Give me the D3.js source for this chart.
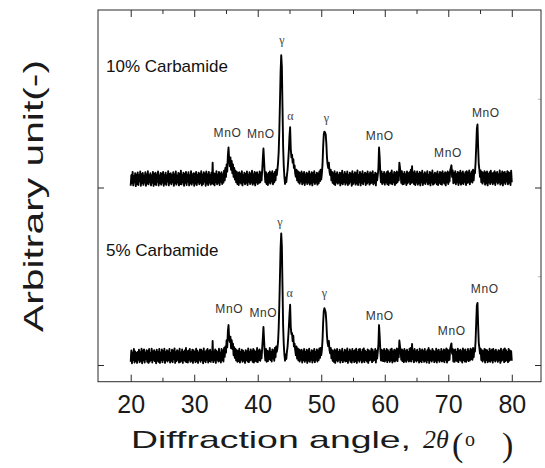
<!DOCTYPE html>
<html><head><meta charset="utf-8">
<script src="https://cdn.jsdelivr.net/npm/d3@7"></script>
<style>html,body{margin:0;padding:0;background:#fff;} svg{display:block}</style>
</head><body>
<script>
// ---------------- data ----------------
const sampleNames = ["10% Carbamide", "5% Carbamide"];
const startAngle = 20;      // first 2θ of the scan
const stepAngle = 0.1;      // scan step (°)
// intensity (a.u.), one value per step, 20.0° .. 80.0°
const intensity10 = [
10,70,25,88,12,65,30,80,8,72,
20,85,14,68,35,90,10,75,25,82,
15,66,28,86,10,74,22,92,18,70,
30,80,12,68,26,88,9,76,20,84,
14,72,32,90,11,66,24,82,16,78,
28,88,10,70,22,84,15,68,34,92,
12,76,26,80,18,70,30,86,10,74,
24,90,16,66,28,82,12,78,20,95,
18,70,30,84,10,76,26,88,14,72,
32,86,12,68,24,92,16,74,28,80,
10,78,22,88,14,70,30,84,18,76,
26,92,12,72,20,86,32,78,10,90,
22,74,14,88,28,70,16,84,24,140,
20,80,12,76,30,92,18,72,26,88,
14,78,32,86,20,74,28,95,40,110,
60,130,90,180,225,160,120,170,100,150,
80,130,60,110,45,95,30,88,20,80,
14,86,28,78,22,92,12,70,30,84,
18,76,26,90,14,72,32,86,20,78,
28,94,16,74,24,88,12,80,30,86,
20,72,26,90,30,84,40,95,160,220,
150,80,30,86,20,74,14,82,28,90,
22,80,34,92,18,76,30,88,40,100,
70,100,140,200,320,480,650,745,680,450,
230,120,60,20,55,30,70,100,150,210,
290,340,220,170,185,140,160,110,125,80,
60,100,40,92,30,86,22,80,34,90,
18,78,26,88,14,72,30,84,20,76,
28,90,16,74,24,86,12,80,30,92,
20,70,28,84,16,78,24,90,36,100,
45,80,130,230,300,315,310,300,250,170,
130,110,140,90,70,100,40,88,26,80,
20,92,14,76,30,86,22,70,28,84,
12,80,24,94,18,72,30,88,16,76,
26,90,14,70,22,84,32,78,10,92,
20,74,28,86,16,80,24,96,14,70,
30,88,12,76,26,92,18,72,34,84,
14,78,22,90,30,74,16,86,24,80,
28,92,18,70,26,84,12,78,40,70,
110,225,170,80,30,90,20,76,28,88,
16,74,30,86,20,92,14,78,26,84,
22,96,18,72,30,88,14,80,24,90,
30,84,40,140,110,80,26,92,18,76,
20,88,28,74,14,90,24,80,32,86,
18,100,26,120,30,84,20,92,14,78,
28,90,16,76,24,88,12,82,30,94,
14,74,26,86,20,78,32,92,18,70,
24,88,12,80,28,96,16,72,22,84,
30,78,18,90,14,74,26,88,20,82,
16,92,28,76,22,86,12,80,30,90,
20,84,34,96,110,125,60,96,24,80,
28,92,18,76,30,88,14,82,26,94,
16,80,24,90,20,74,32,86,14,92,
26,84,30,96,18,78,34,90,28,100,
40,96,80,140,230,330,355,230,130,100,
60,96,30,88,22,80,34,92,16,84,
24,90,12,76,28,86,20,94,30,78,
18,84,26,92,14,80,32,88,22,74,
30,96,16,78,24,90,12,84,28,88,
20,76,34,92,18,86,26,80,14,94,
30];
const intensity5 = [
18,82,10,70,28,90,14,76,22,68,
12,74,30,86,16,72,24,92,10,80,
26,88,14,70,32,84,18,78,12,90,
20,68,28,92,14,76,30,84,22,72,
10,86,24,74,18,90,12,70,28,88,
16,78,30,92,12,72,26,84,20,76,
28,90,14,68,24,86,16,80,32,94,
12,72,22,84,30,76,14,92,18,70,
24,88,12,74,28,82,20,96,16,78,
14,80,30,90,18,72,24,86,12,84,
26,74,16,92,22,80,12,70,30,88,
18,86,28,76,10,94,24,72,16,82,
30,90,14,78,22,86,18,74,28,135,
16,76,26,88,12,80,30,72,20,92,
24,70,14,90,28,82,20,96,46,105,
70,140,100,190,225,150,130,160,95,140,
90,120,55,100,40,90,26,84,18,78,
22,92,14,74,30,86,18,80,24,70,
12,84,28,76,20,94,16,72,26,88,
30,78,18,90,14,82,24,74,20,96,
16,80,28,88,24,76,38,96,150,214,
140,70,26,90,18,80,22,76,34,96,
28,74,20,88,36,82,24,96,44,104,
74,96,130,210,340,500,660,741,670,440,
220,115,58,24,60,34,76,104,155,215,
285,340,215,175,180,135,165,105,120,85,
55,104,36,94,26,88,20,82,30,86,
14,76,28,90,18,74,26,86,12,80,
24,92,18,70,30,84,14,78,26,90,
16,74,30,88,20,80,28,94,40,96,
55,85,140,240,305,320,310,295,245,165,
125,105,135,85,66,96,38,84,24,78,
18,88,12,80,26,90,20,74,30,86,
14,76,28,92,16,70,26,86,20,80,
22,94,12,72,30,88,18,76,14,90,
26,78,16,84,22,92,12,74,28,88,
18,90,30,72,14,86,24,94,16,80,
28,74,20,88,12,82,26,76,30,92,
16,86,24,72,30,90,14,80,36,74,
115,225,165,85,26,86,24,80,22,90,
20,78,26,90,16,84,28,72,18,88,
26,92,14,76,24,86,20,82,30,94,
22,88,44,138,105,76,30,88,22,80,
16,90,24,78,18,86,30,74,20,92,
24,96,20,118,34,80,16,90,26,76,
20,86,28,74,14,92,22,80,16,88,
30,78,18,90,24,72,14,84,28,96,
12,84,26,76,20,90,30,80,16,74,
24,92,14,80,28,86,18,72,26,90,
20,76,24,88,16,82,30,94,14,86,
26,80,30,92,108,122,64,90,20,84,
18,88,26,72,22,92,16,80,30,86,
24,76,14,94,28,82,20,88,18,74,
30,90,22,78,26,92,34,86,30,96,
44,90,76,135,240,335,350,225,125,96,
64,92,28,84,20,78,30,90,14,86,
28,84,16,74,24,92,18,80,26,88,
14,90,28,78,20,86,30,72,18,84,
26,80,12,92,24,76,30,88,16,94,
22,84,28,74,16,90,24,82,30,78,
24];
const stackOffsets = [1000, 0];            // vertical offset of each pattern
const xTickValues = [20, 30, 40, 50, 60, 70, 80];
const xMinorTickValues = [25, 35, 45, 55, 65, 75];
const yTickValues = [0, 1000];
const yMinorTickValues = [500, 1500];
// peak annotations
const peakNames = ["MnO", "MnO", "γ", "α", "γ", "MnO", "MnO", "MnO"];
const peakAngles10 = [35.24, 40.48, 43.82, 45.13, 50.81, 59.21, 69.96, 75.91];
const peakLevels10 = [283, 277, 807, 382, 371, 268, 170, 399];
const peakAngles5 = [35.51, 40.88, 43.51, 45.04, 50.51, 59.21, 70.54, 75.74];
const peakLevels5 = [295, 272, 785, 381, 385, 254, 169, 404];
const sampleLabelAngle = 16.11;
const sampleLabelLevels = [648, 614];

// ---------------- drawing ----------------
const W = 545, H = 468;
const svg = d3.select("body").append("svg").attr("width", W).attr("height", H);
const x = d3.scaleLinear().domain([14.85, 84.6]).range([98, 541]);
const y = d3.scaleLinear().domain([-94, 2000]).range([381.7, 10]);

const series = [intensity10, intensity5];
const frameColor = "#2a2a2a";

// patterns
series.forEach((vals, s) => {
  const line = d3.line()
    .x((d, i) => x(startAngle + i * stepAngle))
    .y(d => y(d + stackOffsets[s]))
    .curve(d3.curveLinear);
  svg.append("path").datum(vals)
    .attr("d", line)
    .attr("fill", "none")
    .attr("stroke", "#000")
    .attr("stroke-width", 1.9)
    .attr("stroke-linejoin", "round");
});

// axes (ticks inside)
const gBottom = svg.append("g").attr("transform", `translate(0,${y.range()[0]})`)
  .call(d3.axisBottom(x).tickValues(xTickValues).tickSizeInner(-7).tickSizeOuter(0).tickFormat(d3.format("d")).tickPadding(14));
gBottom.append("g").call(d3.axisBottom(x).tickValues(xMinorTickValues).tickSizeInner(-4).tickSizeOuter(0).tickFormat(""));
const gTop = svg.append("g").attr("transform", `translate(0,${y.range()[1]})`)
  .call(d3.axisTop(x).tickValues(xTickValues).tickSizeInner(-7).tickSizeOuter(0).tickFormat(""));
gTop.append("g").call(d3.axisTop(x).tickValues(xMinorTickValues).tickSizeInner(-4).tickSizeOuter(0).tickFormat(""));
const gLeft = svg.append("g").attr("transform", `translate(${x.range()[0]},0)`)
  .call(d3.axisLeft(y).tickValues(yTickValues).tickSizeInner(-6).tickSizeOuter(0).tickFormat(""));
const gRight = svg.append("g").attr("transform", `translate(${x.range()[1]},0)`)
  .call(d3.axisRight(y).tickValues(yTickValues).tickSizeInner(-6).tickSizeOuter(0).tickFormat(""));
const gRightMinor = svg.append("g").attr("transform", `translate(${x.range()[1]},0)`)
  .call(d3.axisRight(y).tickValues(yMinorTickValues).tickSizeInner(-3).tickSizeOuter(0).tickFormat(""));
[gBottom, gTop, gLeft, gRight, gRightMinor].forEach(g => {
  g.selectAll(".domain").remove();
  g.selectAll("line").attr("stroke", frameColor).attr("stroke-width", 1);
});
gRightMinor.selectAll("line").attr("stroke", "#bbb");
gBottom.selectAll("text")
  .attr("font-family", "'Liberation Sans', Arial, sans-serif")
  .attr("font-size", 25).attr("fill", "#1a1a1a");

// frame
svg.append("rect")
  .attr("x", x.range()[0]).attr("y", y.range()[1])
  .attr("width", x.range()[1] - x.range()[0])
  .attr("height", y.range()[0] - y.range()[1])
  .attr("fill", "none").attr("stroke", frameColor).attr("stroke-width", 1);

// peak labels
[[peakAngles10, peakLevels10, 0], [peakAngles5, peakLevels5, 1]].forEach(([angs, lvls, s]) => {
  peakNames.forEach((name, i) => {
    const greek = name !== "MnO";
    svg.append("text")
      .attr("x", x(angs[i])).attr("y", y(lvls[i] + stackOffsets[s]))
      .attr("text-anchor", "middle")
      .attr("font-family", greek ? "'Liberation Serif', 'Times New Roman', serif" : "'Liberation Sans', Arial, sans-serif")
      .attr("font-size", 12)
      .attr("letter-spacing", greek ? 0 : 0.6)
      .attr("fill", greek ? "#444" : "#333")
      .text(name);
  });
});

// sample labels
sampleNames.forEach((nm, s) => {
  svg.append("text")
    .attr("x", x(sampleLabelAngle)).attr("y", y(sampleLabelLevels[s] + stackOffsets[s]))
    .attr("font-family", "'Liberation Sans', Arial, sans-serif")
    .attr("font-size", 17).attr("fill", "#111")
    .text(nm);
});

// axis titles
svg.append("text")
  .attr("transform", "translate(43,196) rotate(-90)")
  .attr("text-anchor", "middle")
  .attr("font-family", "'Liberation Sans', Arial, sans-serif")
  .attr("font-size", 28).attr("fill", "#1a1a1a")
  .attr("textLength", 272).attr("lengthAdjust", "spacingAndGlyphs")
  .text("Arbitrary unit(-)");

svg.append("text")
  .attr("x", 131).attr("y", 448)
  .attr("font-family", "'Liberation Sans', Arial, sans-serif")
  .attr("font-size", 24).attr("fill", "#1a1a1a")
  .attr("textLength", 280).attr("lengthAdjust", "spacingAndGlyphs")
  .text("Diffraction angle,");
svg.append("text")
  .attr("x", 423).attr("y", 448)
  .attr("font-family", "'Liberation Serif', 'Times New Roman', serif")
  .attr("font-style", "italic")
  .attr("font-size", 26).attr("fill", "#1a1a1a")
  .text("2θ");
svg.append("text")
  .attr("x", 452).attr("y", 456)
  .attr("font-family", "'Liberation Serif', 'Times New Roman', serif")
  .attr("font-size", 34).attr("fill", "#1a1a1a")
  .text("(");
svg.append("text")
  .attr("x", 465).attr("y", 446)
  .attr("font-family", "'Liberation Serif', 'Times New Roman', serif")
  .attr("font-size", 20).attr("fill", "#1a1a1a")
  .text("o");
svg.append("text")
  .attr("x", 502).attr("y", 456)
  .attr("font-family", "'Liberation Serif', 'Times New Roman', serif")
  .attr("font-size", 34).attr("fill", "#1a1a1a")
  .text(")");
</script>
</body></html>
